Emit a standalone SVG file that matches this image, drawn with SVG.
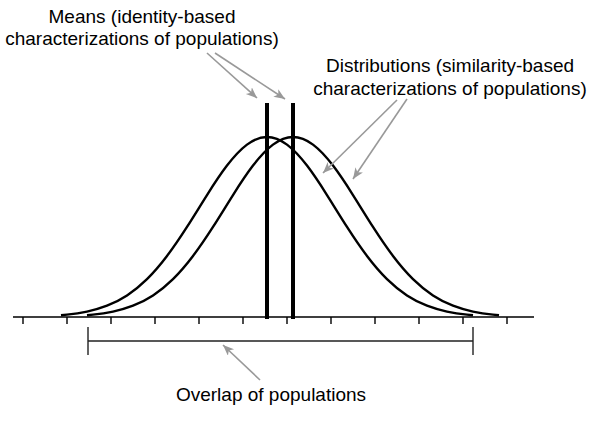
<svg xmlns="http://www.w3.org/2000/svg" width="600" height="425" viewBox="0 0 600 425">
<style>
.lbl{font-family:"Liberation Sans",Arial,sans-serif;font-size:19px;fill:#000;text-anchor:middle}
.curve{fill:none;stroke:#000;stroke-width:2.4}
.mean{stroke:#000;stroke-width:4}
.axis{stroke:#000;stroke-width:1.4;fill:none}
.bar{stroke:#222;stroke-width:1.4;fill:none}
.ptr{stroke:#999;stroke-width:1.6;fill:none;marker-end:url(#ah)}
</style>
<defs>
<marker id="ah" markerUnits="userSpaceOnUse" markerWidth="12" markerHeight="10" refX="11" refY="4.5" orient="auto">
<path d="M0,0 L11,4.5 L0,9 L3,4.5 z" fill="#999"/>
</marker>
<path id="gauss" d="M-206,-1.7 L-200,-2.38 C-193.33,-3.07 -186.67,-4.01 -180,-5.42 C-173.33,-6.83 -166.67,-8.69 -160,-11.3 C-153.33,-13.91 -146.67,-17.26 -140,-21.62 C-133.33,-25.98 -126.67,-31.37 -120,-37.93 C-113.33,-44.49 -106.67,-52.25 -100,-61.05 C-93.33,-69.85 -86.67,-79.71 -80,-90.1 C-73.33,-100.49 -66.67,-111.41 -60,-121.96 C-53.33,-132.51 -46.67,-142.67 -40,-151.4 C-33.33,-160.13 -26.67,-167.41 -20,-172.38 C-13.33,-177.35 -6.67,-180 0,-180 C6.67,-180 13.33,-177.35 20,-172.38 C26.67,-167.41 33.33,-160.13 40,-151.4 C46.67,-142.67 53.33,-132.51 60,-121.96 C66.67,-111.41 73.33,-100.49 80,-90.1 C86.67,-79.71 93.33,-69.85 100,-61.05 C106.67,-52.25 113.33,-44.49 120,-37.93 C126.67,-31.37 133.33,-25.98 140,-21.62 C146.67,-17.26 153.33,-13.91 160,-11.3 C166.67,-8.69 173.33,-6.83 180,-5.42 C186.67,-4.01 193.33,-3.07 200,-2.38 L206,-1.7"/>
</defs>
<g id="axis">
<path class="axis" d="M13,317 H534 M23,317 V324 M67,317 V324 M111,317 V324 M155,317 V324 M199,317 V324 M243,317 V324 M287,317 V324 M331,317 V324 M375,317 V324 M419,317 V324 M463,317 V324 M507,317 V324"/>
</g>
<g id="distribution-1"><use href="#gauss" class="curve" transform="translate(267,317)"/></g>
<g id="distribution-2"><use href="#gauss" class="curve" transform="translate(293,317)"/></g>
<g id="mean-1"><line class="mean" x1="267" y1="103" x2="267" y2="319"/></g>
<g id="mean-2"><line class="mean" x1="293" y1="103" x2="293" y2="319"/></g>
<g id="overlap-bar"><path class="bar" d="M88,341 H473 M88,327 V355 M473,327 V355"/></g>
<g id="means-label"><text class="lbl" x="142" y="23">Means (identity-based</text><text class="lbl" x="142" y="45">characterizations of populations)</text></g>
<g id="distributions-label"><text class="lbl" x="450" y="72">Distributions (similarity-based</text><text class="lbl" x="450" y="95">characterizations of populations)</text></g>
<g id="overlap-label"><text class="lbl" x="271" y="401">Overlap of populations</text></g>
<g id="connectors">
<line class="ptr" x1="207" y1="53" x2="257" y2="98"/>
<line class="ptr" x1="215" y1="53" x2="285" y2="99"/>
<line class="ptr" x1="397" y1="100" x2="323" y2="173"/>
<line class="ptr" x1="407" y1="99" x2="353" y2="179"/>
<line class="ptr" x1="260" y1="380" x2="223" y2="345"/>
</g>
</svg>
